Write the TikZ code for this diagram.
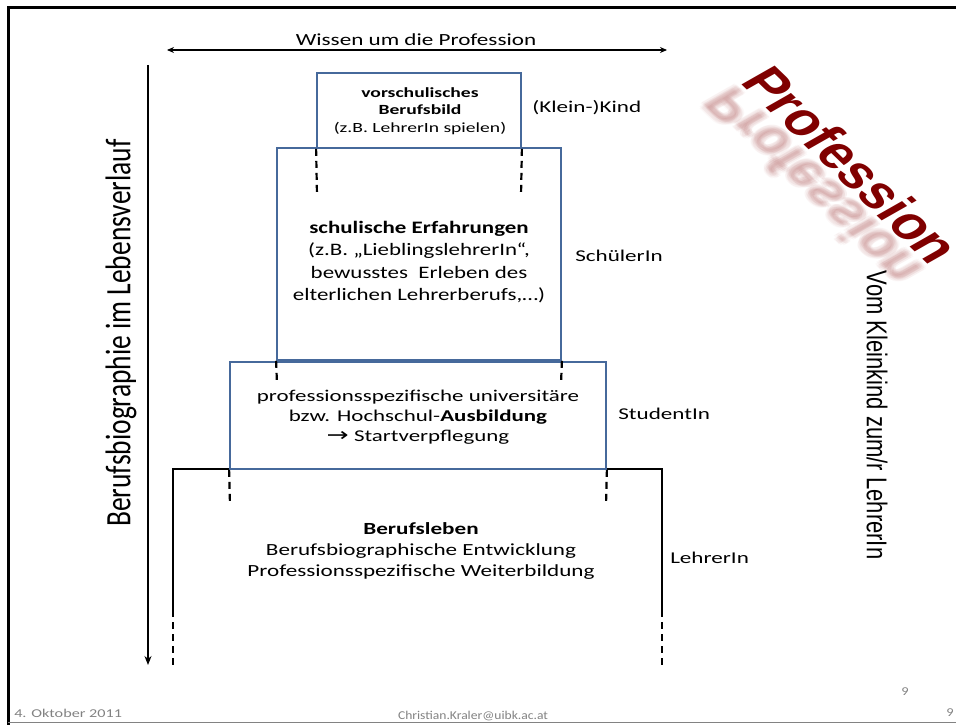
\documentclass[tikz,border=0pt]{standalone}
\usepackage{fontspec}
\setmainfont{Carlito}
\newfontfamily\arialfont{Liberation Sans}
\usetikzlibrary{arrows.meta}
\definecolor{boxblue}{RGB}{70,105,155}
\definecolor{profred}{RGB}{128,0,0}
\definecolor{footgray}{RGB}{130,130,130}
\tikzset{
  box/.style={draw=boxblue, line width=1.8pt, fill=none, inner sep=0pt},
  dashline/.style={draw=black, line width=2.2pt, dash pattern=on 7pt off 5pt},
  solidline/.style={draw=black, line width=1.6pt},
  txt/.style={align=center, inner sep=0pt, text=black, transform shape, xscale=1.36},
  lbl/.style={anchor=west, inner sep=0pt, transform shape, xscale=1.4, font=\fontsize{16.5}{19}\selectfont},
  foot/.style={inner sep=0pt, text=footgray, transform shape, font=\fontsize{12}{14}\selectfont},
  proftext/.style={transform shape, anchor=base west, inner sep=0pt, font=\arialfont\bfseries\fontsize{45}{45}\selectfont},
  refl/.style={proftext, text=profred, opacity=0.028}
}
\begin{document}
\begin{tikzpicture}[x=1pt,y=-1pt]
\useasboundingbox (0,0) rectangle (956,725);
% frame
\draw[line width=3pt] (8,725) -- (8,8) -- (956,8);
\draw[line width=0.8pt, draw=footgray] (8,722) -- (956,722);

% top arrow
\coordinate (ta1) at (167,50);
\coordinate (ta2) at (667,50);
\draw[line width=1.1pt, {Stealth[length=7pt,width=6pt]}-{Stealth[length=7pt,width=6pt]}] (ta1) -- (ta2);
\node[txt, font=\fontsize{17}{20}\selectfont] (wissen) at (416,40) {Wissen um die Profession};

% left arrow
\coordinate (la1) at (148,65);
\coordinate (la2) at (148,665);
\draw[line width=1.1pt, -{Stealth[length=9pt,width=7pt]}] (la1) -- (la2);
\begin{scope}[shift={(121,333)}, xscale=1.3, rotate=90]
  \node[inner sep=0pt, transform shape, font=\fontsize{27.5}{30}\selectfont] (berufsbio) at (0,0) {Berufsbiographie im Lebensverlauf};
\end{scope}

% box 4 (open, black)
\coordinate (b4a) at (173,610);
\coordinate (b4b) at (173,469);
\coordinate (b4c) at (662,469);
\coordinate (b4d) at (662,610);
\coordinate (b4e) at (173,668);
\coordinate (b4f) at (662,668);
\draw[solidline] (b4a) -- (b4b) -- (b4c) -- (b4d);
\draw[dashline] (b4a) -- (b4e);
\draw[dashline] (b4d) -- (b4f);

% boxes
\node[box, minimum width=204pt, minimum height=75pt] (b1) at (419,110.5) {};
\node[box, minimum width=284pt, minimum height=212pt] (b2) at (419,254) {};
\node[box, minimum width=376pt, minimum height=107pt] (b3) at (418,415.5) {};

% dashed continuations
\coordinate (d1a) at (317,196);
\coordinate (d1b) at (521,196);
\coordinate (d2a) at (277,384);
\coordinate (d2b) at (561,384);
\coordinate (d3a) at (230,505);
\coordinate (d3b) at (606,505);
\draw[dashline] (b1.south west) -- (d1a);
\draw[dashline] (b1.south east) -- (d1b);
\draw[dashline] (b2.south west) -- (d2a);
\draw[dashline] (b2.south east) -- (d2b);
\draw[dashline] (b3.south west) -- (d3a);
\draw[dashline] (b3.south east) -- (d3b);

% box texts
\node[txt, xscale=1.4/1.36, font=\fontsize{14}{17.5}\selectfont] (t1) at (420,111) {\textbf{vorschulisches}\\\textbf{Berufsbild}\\(z.B. LehrerIn spielen)};
\node[txt, xscale=1.31/1.36, font=\fontsize{17.5}{22.5}\selectfont] (t2) at (419,262) {\textbf{schulische Erfahrungen}\\(z.B. „LieblingslehrerIn“,\\bewusstes\ \ Erleben des\\elterlichen Lehrerberufs,\dots)};
\node[txt, xscale=1.39/1.36, font=\fontsize{16.5}{20}\selectfont] (t3) at (418,417) {professionsspezifische universitäre\\bzw. Hochschul-\textbf{Ausbildung}\\{\fontspec{DejaVu Sans}\fontsize{19}{20}\selectfont →} Startverpflegung};
\node[txt, font=\fontsize{17}{21}\selectfont] (t4) at (421,551) {\textbf{Berufsleben}\\Berufsbiographische Entwicklung\\Professionsspezifische Weiterbildung};

% right labels
\node[lbl] (l1) at (532,108) {(Klein-)Kind};
\node[lbl] (l2) at (575,256) {SchülerIn};
\node[lbl] (l3) at (618,414) {StudentIn};
\node[lbl] (l4) at (670,558) {LehrerIn};

\begin{scope}[shift={(877,415)}, xscale=1.3, rotate=-90]
  \node[inner sep=0pt, transform shape, font=\arialfont\fontsize{22}{24}\selectfont] (vom) at (0,0) {Vom Kleinkind zum/r LehrerIn};
\end{scope}

% Profession with reflection
\begin{scope}[shift={(739,82)}, xscale=1.35, rotate=-52.5]
  \begin{scope}[yscale=-1]
    \foreach \dx/\dy in {0/-3, 1.5/-4, -1.5/-4, 3/-5, -3/-5, 0/-6, 2/-2.5, -2/-2.5, 0/-4.5, 3/-3.5, -3/-3.5, 0/-8, 1.5/-7, -1.5/-7} {
      \node[refl] at (\dx,\dy) {Profession};
    }
  \end{scope}
  \node[proftext, text=profred] (prof) at (0,0) {Profession};
\end{scope}

% footer
\node[foot, anchor=west, xscale=1.35] (date) at (14,713) {4. Oktober 2011};
\node[foot, xscale=1.13] (mail) at (473,716) {Christian.Kraler@uibk.ac.at};
\node[foot, xscale=1.2] (p1) at (905,692) {9};
\node[foot, xscale=1.2] (p2) at (950,713) {9};
\end{tikzpicture}
\end{document}
